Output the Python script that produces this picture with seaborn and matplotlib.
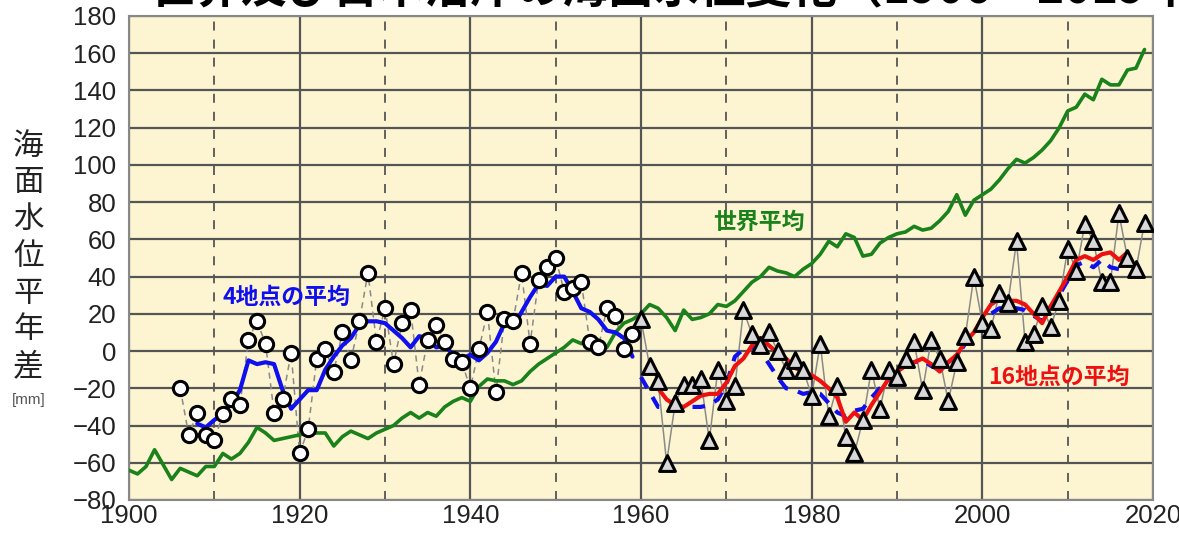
import numpy as np
import pandas as pd
import seaborn as sns
import matplotlib.pyplot as plt

# world average (green), 1900-2019
world_years = list(range(1900, 2020))
world_vals = [-64, -66, -62, -53, -61, -69, -63, -65, -67, -62,
              -62, -55, -58, -55, -49, -41, -44, -48, -47, -46,
              -45, -44, -44, -44, -51, -46, -43, -45, -47, -44,
              -42, -40, -36, -33, -36, -33, -35, -30, -27, -25,
              -27, -19, -15, -16, -16, -18, -16, -11, -7, -4,
              -1, 2, 6, 4, 8, 6, 2, 10, 15, 17,
              20, 25, 23, 18, 11, 22, 17, 18, 20, 25,
              24, 27, 32, 37, 40, 45, 43, 42, 40, 44,
              47, 52, 59, 56, 63, 61, 51, 52, 58, 61,
              63, 64, 67, 65, 66, 70, 75, 84, 73, 81,
              84, 87, 92, 98, 103, 101, 104, 108, 113, 120,
              129, 131, 138, 135, 146, 143, 143, 151, 152, 162]

# 4 stations, yearly (circles), 1906-1959
st4_years = list(range(1906, 1960))
st4_vals = [-20, -45, -33, -45, -48, -34, -26, -29, 6, 16,
            4, -33, -26, -1, -55, -42, -4, 1, -11, 10,
            -5, 16, 42, 5, 23, -7, 15, 22, -18, 6,
            14, 5, -4, -6, -20, 1, 21, -22, 17, 16,
            42, 4, 38, 45, 50, 32, 34, 37, 5, 2,
            23, 19, 1, 9]

# 4 stations, smoothed (blue solid), 1908-1959
avg4_years = list(range(1908, 1960))
avg4_vals = [-39, -41, -37, -34, -28, -21, -5, -7, -6, -7,
             -21, -31, -26, -21, -21, -10, -3, 3, 7, 14,
             16, 16, 15, 11, 7, 2, 8, 7, 2, 3,
             -2, -4, -2, -5, -1, 5, 15, 13, 21, 29,
             36, 35, 40, 40, 32, 23, 21, 17, 11, 10,
             7, -3]

# 4 stations, smoothed (blue dashed), 1960-2016
avg4b_years = list(range(1960, 2017))
avg4b_vals = [-14, -22, -30, -30, -30, -30, -30, -30, -29, -26,
              -18, -3, 1, 2, 0, -7, -14, -20, -21, -23,
              -22, -23, -28, -33, -35, -32, -31, -25, -20, -16,
              -13, -9, -6, -5, -8, -10, -6, -3, 4, 9,
              16, 20, 23, 23, 23, 22, 19, 16, 24, 30,
              38, 46, 48, 45, 49, 45, 44]

# 16 stations, yearly (triangles), 1960-2019
st16_years = list(range(1960, 2020))
st16_vals = [17, -8, -16, -60, -28, -18, -18, -15, -48, -10,
             -27, -19, 22, 9, 3, 10, 0, -10, -5, -10,
             -24, 4, -35, -19, -46, -55, -37, -10, -31, -10,
             -14, -4, 5, -21, 6, -4, -27, -6, 8, 40,
             15, 12, 31, 26, 59, 5, 9, 24, 13, 27,
             55, 43, 68, 59, 37, 37, 74, 50, 44, 69]

# 16 stations, smoothed (red), 1962-2017
avg16_years = list(range(1962, 2018))
avg16_vals = [-20, -26, -29, -30, -27, -24, -23, -23, -17, -8,
              -4, 3, 7, 3, -1, -4, -9, -11, -13, -16,
              -20, -25, -38, -33, -37, -29, -22, -15, -11, -8,
              -6, -4, -7, -11, -6, -2, 5, 10, 18, 25,
              28, 27, 27, 25, 20, 15, 24, 32, 40, 49,
              51, 49, 52, 53, 49, 53]

title = '世界及び日本沿岸の海面水位変化（1906～2019年）'
ylabel_chars = ['海', '面', '水', '位', '平', '年', '差']

sns.set_theme(style='white')
cjk = ['Noto Sans CJK JP', 'DejaVu Sans']
plt.rcParams['font.family'] = cjk
plt.rcParams['axes.unicode_minus'] = True

fig = plt.figure(figsize=(11.79, 5.42), dpi=100)
ax = fig.add_axes([0.1094, 0.0775, 0.8686, 0.893])
ax.set_facecolor('#fdf5d2')

# grid
for y in range(-80, 181, 20):
    ax.axhline(y, color='#555555', lw=1.6, zorder=1)
for x in range(1900, 2021, 20):
    ax.axvline(x, color='#555555', lw=1.6, zorder=1)
for x in range(1910, 2020, 20):
    ax.axvline(x, color='#555555', lw=1.3, ls=(0, (5, 5)), zorder=1)

sns.lineplot(x=world_years, y=world_vals, ax=ax, color='#1a821a', lw=2.6, zorder=3)

# thin connectors
sns.lineplot(x=st4_years, y=st4_vals, ax=ax, color='#8a8a8a', lw=1.1,
             ls=(0, (4, 3)), zorder=2)
sns.lineplot(x=st16_years, y=st16_vals, ax=ax, color='#8a8a8a', lw=1.1, zorder=2)

sns.lineplot(x=avg4_years, y=avg4_vals, ax=ax, color='#1010ee', lw=3, zorder=4)
sns.lineplot(x=avg4b_years, y=avg4b_vals, ax=ax, color='#1010ee', lw=3,
             ls=(0, (3, 2.5)), zorder=4)
sns.lineplot(x=avg16_years, y=avg16_vals, ax=ax, color='#ee1111', lw=3, zorder=5)

sns.scatterplot(x=st4_years, y=st4_vals, ax=ax, marker='o', s=105, color='white',
                edgecolor='black', linewidth=2.2, zorder=6)
sns.scatterplot(x=st16_years, y=st16_vals, ax=ax, marker='^', s=130, color='#d8d8d8',
                edgecolor='black', linewidth=2.2, zorder=6)

ax.text(1911, 29, '4地点の平均', color='#1010ee', fontsize=16.5, fontweight='bold',
        va='center', ha='left', zorder=7)
ax.text(1968.4, 69, '世界平均', color='#1a821a', fontsize=16.5, fontweight='bold',
        va='center', ha='left', zorder=7)
ax.text(2000.7, -14, '16地点の平均', color='#ee1111', fontsize=16.5, fontweight='bold',
        va='center', ha='left', zorder=7)

ax.set_xlim(1900, 2020)
ax.set_ylim(-80, 180)
ax.set_xticks(range(1900, 2021, 20))
ax.set_yticks(range(-80, 181, 20))
num_font = ['Liberation Sans Narrow', 'Liberation Sans']
for lab in ax.get_xticklabels() + ax.get_yticklabels():
    lab.set_family(num_font)
    lab.set_fontsize(18.5)
ax.tick_params(axis='both', length=0, colors='#222222')
ax.tick_params(axis='y', pad=9)
ax.tick_params(axis='x', pad=3)
for side, sp in ax.spines.items():
    sp.set_color('#888888')
    sp.set_linewidth(1.5)
ax.set_xlabel('')
ax.set_ylabel('')

fig.text(0.024, 0.527, '\n'.join(ylabel_chars), fontsize=22, ha='center', va='center',
         linespacing=1.24, color='#222222')
fig.text(0.024, 0.262, '[mm]', fontsize=11, ha='center', va='center', color='#555555',
         family=num_font)

fig.text(0.127, (542 - 12) / 542, title, fontsize=33, fontweight='bold',
         ha='left', va='bottom', color='black')

fig.savefig('out.png', dpi=100)
